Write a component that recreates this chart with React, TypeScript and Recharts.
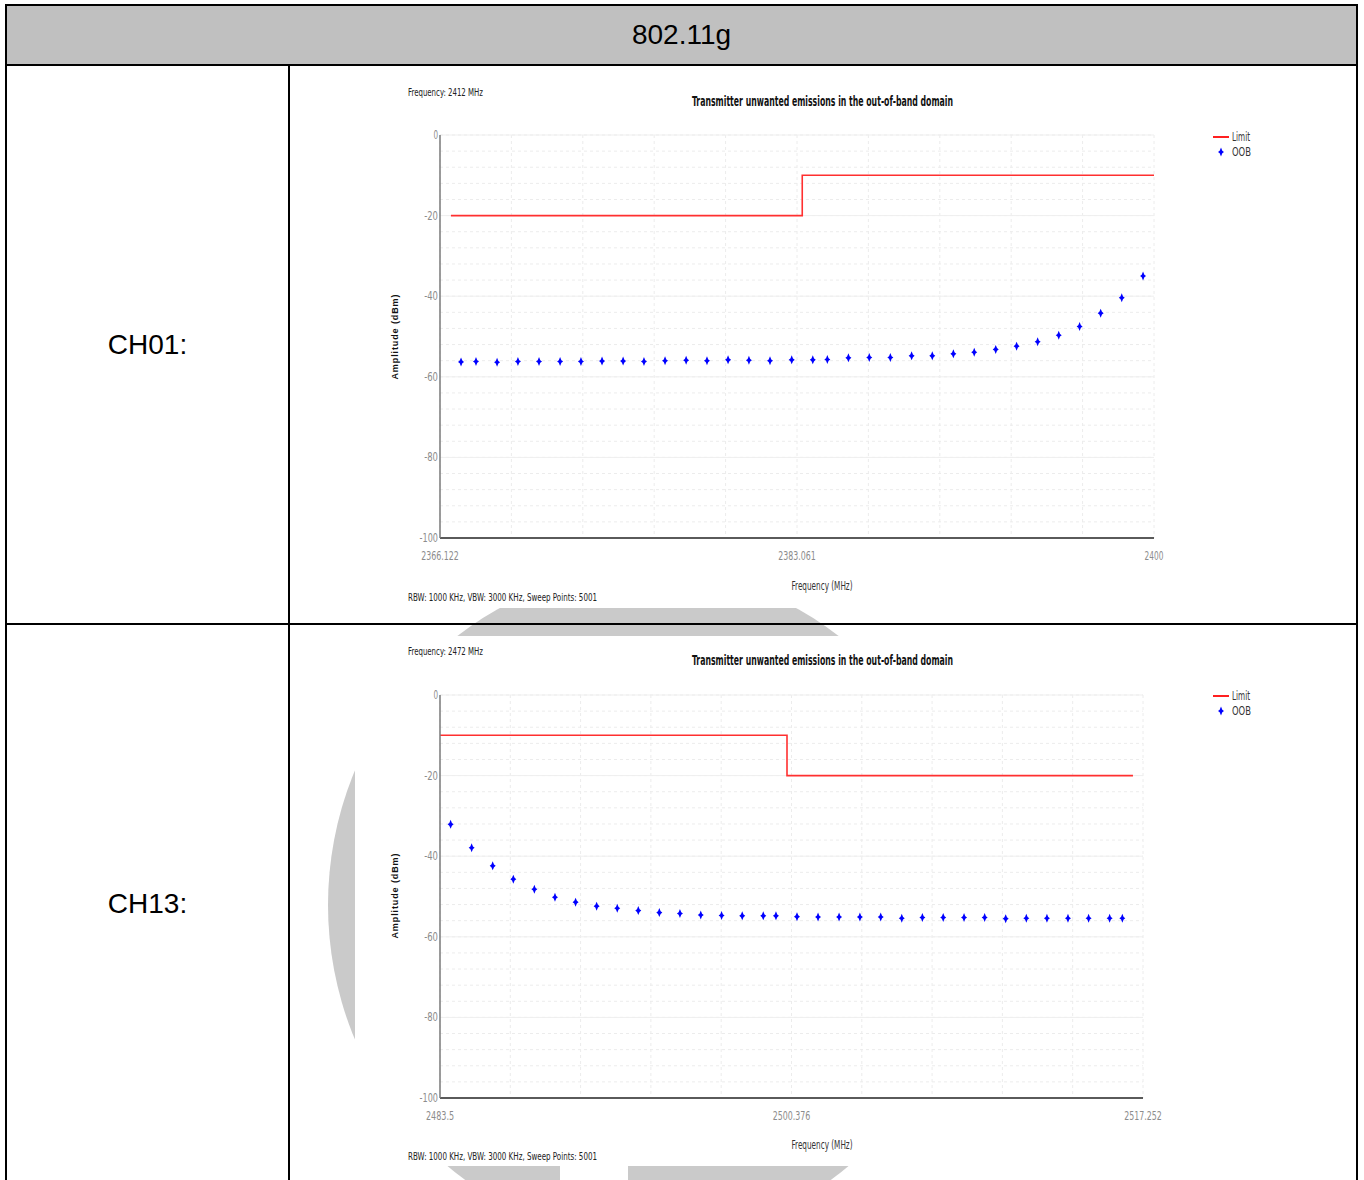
import React from 'react';
import { ComposedChart, Line, Scatter, XAxis, YAxis, CartesianGrid } from 'recharts';

// ---------- data ----------
const ch01Freq = [2367.12, 2367.83, 2368.83, 2369.82, 2370.82, 2371.82, 2372.81, 2373.81, 2374.81, 2375.8, 2376.8, 2377.8, 2378.79, 2379.79, 2380.78, 2381.78, 2382.81, 2383.81, 2384.5, 2385.5, 2386.49, 2387.49, 2388.5, 2389.48, 2390.48, 2391.47, 2392.49, 2393.48, 2394.48, 2395.48, 2396.47, 2397.47, 2398.47, 2399.48];
const ch01Amp = [-56.3, -56.2, -56.4, -56.2, -56.2, -56.2, -56.2, -56.1, -56.1, -56.2, -56.0, -55.9, -56.0, -55.8, -55.9, -56.0, -55.8, -55.8, -55.7, -55.3, -55.2, -55.2, -54.8, -54.8, -54.3, -53.9, -53.2, -52.4, -51.3, -49.7, -47.5, -44.2, -40.4, -35.0];
const ch01LimitFreq = [2366.64, 2383.31, 2383.31, 2400];
const ch01LimitAmp = [-20, -20, -10, -10];
const ch01XTicks = [2366.122, 2383.061, 2400];

const ch13Freq = [2484.01, 2485.02, 2486.03, 2487.02, 2488.03, 2489.02, 2490.01, 2491.02, 2492.01, 2493.02, 2494.03, 2495.02, 2496.02, 2497.02, 2498.01, 2499.02, 2499.63, 2500.64, 2501.65, 2502.66, 2503.66, 2504.66, 2505.67, 2506.66, 2507.66, 2508.66, 2509.65, 2510.66, 2511.65, 2512.64, 2513.65, 2514.64, 2515.65, 2516.26];
const ch13Amp = [-32.1, -37.9, -42.4, -45.7, -48.2, -50.2, -51.4, -52.4, -52.9, -53.5, -54.0, -54.2, -54.6, -54.7, -54.8, -54.8, -54.8, -55.0, -55.1, -55.1, -55.1, -55.1, -55.4, -55.2, -55.2, -55.2, -55.2, -55.5, -55.4, -55.4, -55.4, -55.4, -55.4, -55.4];
const ch13LimitFreq = [2483.5, 2500.16, 2500.16, 2516.77];
const ch13LimitAmp = [-10, -10, -20, -20];
const ch13XTicks = [2483.5, 2500.376, 2517.252];

const yTicks = [0, -20, -40, -60, -80, -100];
const yGridMinor = [0, -4, -8, -12, -16, -20, -24, -28, -32, -36, -40, -44, -48, -52, -56, -60, -64, -68, -72, -76, -80, -84, -88, -92, -96, -100];

const headerText = '802.11g';
const rowLabels = ['CH01:', 'CH13:'];
const centerFreqs = ['Frequency: 2412 MHz', 'Frequency: 2472 MHz'];
const chartTitle = 'Transmitter unwanted emissions in the out-of-band domain';
const rbwText = 'RBW: 1000 KHz,  VBW: 3000 KHz,  Sweep Points: 5001';
const legendNames = ['Limit', 'OOB'];

const NARROW = '"Liberation Sans Narrow", "DejaVu Sans Condensed", "Liberation Sans", sans-serif';

const Star = (props: any) => {
  const { cx, cy } = props;
  if (cx == null || cy == null) return null;
  return (
    <path
      d={`M${cx},${cy - 4.5} L${cx + 1.3},${cy - 1.3} L${cx + 3},${cy} L${cx + 1.3},${cy + 1.3} L${cx},${cy + 4.5} L${cx - 1.3},${cy + 1.3} L${cx - 3},${cy} L${cx - 1.3},${cy - 1.3} Z`}
      fill="#0000ff"
    />
  );
};

const XTick = (props: any) => {
  const { x, y, payload } = props;
  const s = String(payload.value);
  return (
    <text x={x} y={y} dy={12} textAnchor="middle" fill="#8c8c8c" fontSize={11.5} fontFamily={NARROW} textLength={s.length * 4.7} lengthAdjust="spacingAndGlyphs">
      {s}
    </text>
  );
};

const YTick = (props: any) => {
  const { x, y, payload } = props;
  const s = String(payload.value);
  return (
    <text x={x} y={y} dy={4} textAnchor="end" fill="#8c8c8c" fontSize={11.5} fontFamily={NARROW} textLength={s.length * 4.6} lengthAdjust="spacingAndGlyphs">
      {s}
    </text>
  );
};

type ChartProps = {
  freq: number[];
  amp: number[];
  limF: number[];
  limA: number[];
  xTicks: number[];
  top: number;
  height: number;
  margin: { top: number; right: number; bottom: number; left: number };
};

const OobChart = ({ freq, amp, limF, limA, xTicks, top, height, margin }: ChartProps) => {
  const oob = freq.map((f, i) => ({ f, a: amp[i] }));
  const lim = limF.map((f, i) => ({ f, a: limA[i] }));
  const xmin = xTicks[0];
  const xmax = xTicks[xTicks.length - 1];
  const vGrid: number[] = [];
  for (let i = 0; i <= 10; i++) vGrid.push(xmin + ((xmax - xmin) * i) / 10);
  return (
    <div style={{ position: 'absolute', left: 355, top, width: 935, height, background: '#fff', zIndex: 1 }}>
      <ComposedChart width={935} height={height} margin={margin}>
        <CartesianGrid
          horizontalValues={yGridMinor}
          verticalValues={vGrid}
          stroke="#ececec"
          strokeDasharray="3 3"
        />
        <CartesianGrid horizontalValues={yTicks} vertical={false} stroke="#efefef" />
        <XAxis
          type="number"
          dataKey="f"
          domain={[xmin, xmax]}
          ticks={xTicks}
          interval={0}
          allowDataOverflow
          tickLine={false}
          tickSize={0}
          tickMargin={10}
          height={30}
          axisLine={{ stroke: '#5a5a5a', strokeWidth: 2 }}
          tick={<XTick />}
        />
        <YAxis
          type="number"
          dataKey="a"
          domain={[-100, 0]}
          ticks={yTicks}
          interval={0}
          width={40}
          tickLine={false}
          tickSize={0}
          tickMargin={2}
          axisLine={{ stroke: '#7a7a7a', strokeWidth: 1.5 }}
          tick={<YTick />}
        />
        <Line
          data={lim}
          dataKey="a"
          type="linear"
          stroke="#ff3030"
          strokeWidth={1.6}
          dot={false}
          isAnimationActive={false}
        />
        <Scatter data={oob} dataKey="a" shape={<Star />} isAnimationActive={false} />
      </ComposedChart>
    </div>
  );
};

const Annotations = ({ dy, cx }: { dy: number; cx: number }) => (
  <g>
    <text x={408} y={96 + dy} fontSize={10.5} fontFamily={NARROW} fill="#222" textLength={75} lengthAdjust="spacingAndGlyphs">
      {dy === 0 ? centerFreqs[0] : centerFreqs[1]}
    </text>
    <text x={692} y={106 + dy} fontSize={13.5} fontWeight="bold" fontFamily={NARROW} fill="#111" textLength={261} lengthAdjust="spacingAndGlyphs">
      {chartTitle}
    </text>
    <rect x={1213} y={136 + dy} width={16} height={2} fill="#ff2020" />
    <text x={1232} y={141 + dy} fontSize={11.5} fontFamily={NARROW} fill="#333" textLength={18} lengthAdjust="spacingAndGlyphs">
      {legendNames[0]}
    </text>
    <Star cx={1221} cy={152 + dy} />
    <text x={1232} y={156 + dy} fontSize={11.5} fontFamily={NARROW} fill="#333" textLength={19} lengthAdjust="spacingAndGlyphs">
      {legendNames[1]}
    </text>
    <text
      x={396}
      y={337 + dy}
      fontSize={9}
      fontWeight="bold"
      fontFamily='"Liberation Sans", Arial, sans-serif'
      fill="#111"
      textAnchor="middle"
      dominantBaseline="middle"
      textLength={85}
      lengthAdjust="spacing"
      transform={`rotate(-90 396 ${337 + dy})`}
    >
      Amplitude (dBm)
    </text>
    <text x={cx} y={590 + dy} fontSize={11.5} fontFamily={NARROW} fill="#333" textAnchor="middle" textLength={61} lengthAdjust="spacingAndGlyphs">
      Frequency (MHz)
    </text>
    <text x={408} y={601 + dy} fontSize={10.5} fontFamily={NARROW} fill="#222" textLength={189} lengthAdjust="spacingAndGlyphs">
      {rbwText}
    </text>
  </g>
);

export default function App() {
  const line = (style: React.CSSProperties) => (
    <div style={{ position: 'absolute', background: '#000', zIndex: 3, ...style }} />
  );
  return (
    <div style={{ position: 'absolute', left: 0, top: 0, width: 1364, height: 1180, overflow: 'hidden', background: '#fff' }}>
      {/* watermark */}
      <svg width={1364} height={1180} style={{ position: 'absolute', left: 0, top: 0, zIndex: 0 }}>
        <ellipse cx={648} cy={905} rx={320} ry={335} fill="#cacaca" />
        <rect x={560} y={1166} width={68} height={20} fill="#fff" />
      </svg>
      {/* header */}
      <div style={{ position: 'absolute', left: 5, top: 4, width: 1353, height: 61, background: '#c0c0c0', zIndex: 1 }} />
      <div style={{ position: 'absolute', left: 5, top: 4, width: 1353, height: 62, zIndex: 2, display: 'flex', alignItems: 'center', justifyContent: 'center', fontFamily: '"Liberation Sans", Arial, sans-serif', fontSize: 28, color: '#000' }}>
        {headerText}
      </div>
      {/* row labels */}
      <div style={{ position: 'absolute', left: 7, top: 66, width: 281, height: 557, zIndex: 2, display: 'flex', alignItems: 'center', justifyContent: 'center', fontFamily: '"Liberation Sans", Arial, sans-serif', fontSize: 28, color: '#000', background: '#fff' }}>
        {rowLabels[0]}
      </div>
      <div style={{ position: 'absolute', left: 7, top: 625, width: 281, height: 557, zIndex: 2, display: 'flex', alignItems: 'center', justifyContent: 'center', fontFamily: '"Liberation Sans", Arial, sans-serif', fontSize: 28, color: '#000', background: '#fff' }}>
        {rowLabels[1]}
      </div>

      <OobChart
        freq={ch01Freq}
        amp={ch01Amp}
        limF={ch01LimitFreq}
        limA={ch01LimitAmp}
        xTicks={ch01XTicks}
        top={68}
        height={540}
        margin={{ top: 67, right: 136, bottom: 40, left: 45 }}
      />
      <OobChart
        freq={ch13Freq}
        amp={ch13Amp}
        limF={ch13LimitFreq}
        limA={ch13LimitAmp}
        xTicks={ch13XTicks}
        top={636}
        height={530}
        margin={{ top: 59, right: 147, bottom: 38, left: 45 }}
      />

      <svg width={1364} height={1180} style={{ position: 'absolute', left: 0, top: 0, zIndex: 2, pointerEvents: 'none' }}>
        <Annotations dy={0} cx={822} />
        <Annotations dy={559} cx={822} />
      </svg>

      {/* table borders */}
      {line({ left: 5, top: 4, width: 1353, height: 2 })}
      {line({ left: 5, top: 64, width: 1353, height: 2 })}
      {line({ left: 5, top: 623, width: 1353, height: 2 })}
      {line({ left: 5, top: 4, width: 2, height: 1176 })}
      {line({ left: 1356, top: 4, width: 2, height: 1176 })}
      {line({ left: 288, top: 65, width: 2, height: 1115 })}
    </div>
  );
}
